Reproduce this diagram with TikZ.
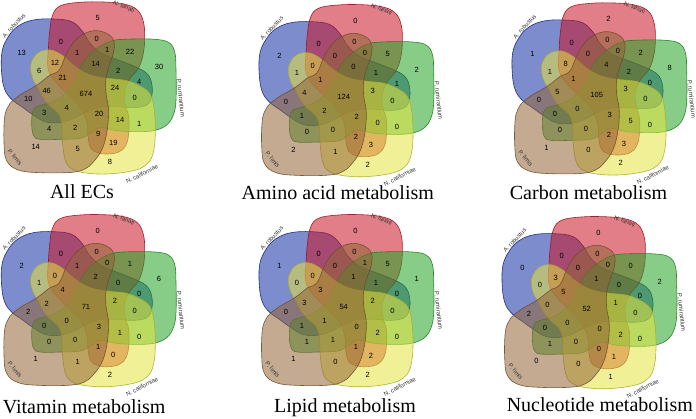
\documentclass[tikz,border=0pt]{standalone}
\usepackage{fontspec}
\setmainfont{Liberation Serif}
\setsansfont{Liberation Sans}
\usetikzlibrary{positioning}

\definecolor{arblue}{RGB}{19,46,164}
\definecolor{nlred}{RGB}{200,20,37}
\definecolor{prgreen}{RGB}{37,164,37}
\definecolor{ncyellow}{RGB}{228,228,64}
\definecolor{plbrown}{RGB}{146,100,55}

\tikzset{
	vennset/.style={fill=#1, fill opacity=0.55, draw=#1!75!black, draw opacity=0.9, line width=0.6pt},
	arshape/.style={insert path={plot[smooth cycle, tension=0.65] coordinates {(25,110) (55,78) (100,60) (160,57) (215,65) (248,95) (270,130) (305,160) (355,180) (405,200) (440,220) (455,250) (455,290) (440,315) (400,323) (350,320) (295,322) (250,340) (215,358) (175,368) (135,365) (100,345) (65,320) (35,298) (14,268) (5,220) (6,155)}}},
	nlshape/.style={insert path={plot[smooth cycle, tension=0.65] coordinates {(158,45) (182,17) (240,7) (310,6) (372,12) (412,30) (430,65) (434,110) (430,160) (415,205) (388,238) (374,275) (376,315) (386,350) (386,400) (378,435) (358,455) (325,462) (292,458) (272,444) (264,410) (262,375) (252,342) (232,312) (205,285) (175,255) (152,225) (143,195) (145,150) (149,95)}}},
	prshape/.style={insert path={plot[smooth cycle, tension=0.65] coordinates {(345,120) (400,117) (465,118) (505,127) (524,155) (528,210) (528,300) (520,345) (500,375) (465,391) (420,395) (360,393) (330,388) (300,382) (270,400) (240,415) (180,418) (120,418) (100,405) (95,365) (100,330) (115,318) (140,312) (170,300) (200,278) (218,250) (235,215) (255,180) (285,150) (320,128)}}},
	ncshape/.style={insert path={plot[smooth cycle, tension=0.65] coordinates {(95,185) (115,158) (150,150) (185,165) (220,195) (255,218) (290,230) (330,236) (380,242) (420,258) (450,282) (462,325) (466,400) (458,465) (435,497) (395,513) (320,522) (250,518) (213,505) (195,478) (187,420) (185,370) (175,340) (150,318) (130,295) (115,265) (100,240) (92,210)}}},
	plshape/.style={insert path={plot[smooth cycle, tension=0.65] coordinates {(30,310) (60,285) (100,262) (125,245) (150,225) (178,210) (200,160) (225,122) (255,100) (290,92) (325,103) (342,125) (340,160) (328,195) (318,235) (318,280) (325,320) (325,360) (318,410) (305,450) (285,480) (258,505) (215,517) (120,518) (55,510) (20,482) (12,430) (13,360) (20,328)}}},
	ecount/.style={font=\sffamily\fontsize{7.5}{7.5}\selectfont, inner sep=0},
	setname/.style={font=\sffamily\fontsize{6}{6}\selectfont, text=black!80, inner sep=0},
	paneltitle/.style={font=\fontsize{20}{20}\selectfont, inner sep=0, anchor=base}
}

% #1 name, #2/#3 centre, #4 the 31 counts
\newcommand{\vennpanel}[4]{
	\begin{scope}[shift={(#2,#3)}]
		\begin{scope}[x=0.33333pt, y=-0.33333pt, shift={(-258,-282)}]
			\filldraw[vennset=arblue, arshape];
			\filldraw[vennset=nlred, nlshape];
			\filldraw[vennset=prgreen, prshape];
			\filldraw[vennset=ncyellow, ncshape];
			\filldraw[vennset=plbrown, plshape];
		\end{scope}
		\foreach \x/\y [count=\i] in {-64.3/40.7, 11.7/75.7, 73/27.3, 24/-68.3, -50.3/-52.7, -25/52.3, 10.7/55, 21.3/44, 44/42.3, -8.7/40.7, 9.7/29.7, -31/30.7, -46.7/23.3, -23.3/16.3, 32.3/23.3, 53.3/12.3, 29/5.7, -39.3/3.3, 0/0, 48.7/-4.3, -57.7/-5, -19.3/-14.3, 13/-20.3, -41.7/-19.3, 34/-26, 53.3/-30.3, -36.7/-35, -10.7/-33.7, 12.3/-40.3, 27.3/-48.7, -8.3/-55} {
			\coordinate (#1r\i) at (\x,\y);
		};
		\foreach \n [count=\i] in {#4} {
			\node[ecount] (#1n\i) at (#1r\i) {\n};
		};
		\node[setname, rotate=47] (#1ar) at (-72,68.5) {A. robustus};
		\node[setname, rotate=-22] (#1nl) at (38,87.5) {N. lanati};
		\node[setname, rotate=-84] (#1pr) at (95,-4) {P. rumirantium};
		\node[setname, rotate=27] (#1nc) at (56,-80) {N. californiae};
		\node[setname, rotate=-50] (#1pl) at (-71,-63) {P. limis};
	\end{scope}
}

\begin{document}
\begin{tikzpicture}[x=1pt, y=1pt]
	\useasboundingbox (0,0) rectangle (696,419);
	\vennpanel{all}{86}{325}{13,5,30,8,14,0,0,1,22,1,14,12,6,21,2,4,24,46,674,0,10,4,20,3,14,1,4,2,9,19,5}
	\vennpanel{amino}{343.7}{322.3}{2,0,2,2,2,0,0,0,5,0,0,0,1,1,1,1,3,4,124,0,0,2,2,1,0,0,0,0,2,3,1}
	\vennpanel{carbon}{596.7}{324}{1,2,8,2,1,0,0,0,2,0,4,8,1,1,2,0,3,5,105,0,0,0,3,0,5,0,0,0,2,3,0}
	\vennpanel{vitamin}{86}{112.3}{2,0,6,2,1,0,0,0,1,1,2,0,1,4,0,0,2,2,71,0,2,0,3,0,1,0,0,0,1,0,1}
	\vennpanel{lipid}{343.7}{112.3}{1,0,1,2,1,0,0,1,5,0,1,0,0,3,1,0,2,3,54,0,0,1,0,1,2,0,1,1,1,2,0}
	\vennpanel{nucl}{586.7}{110.3}{0,0,2,1,0,0,0,0,0,0,1,3,0,5,0,0,1,0,52,0,2,0,0,0,2,0,1,0,0,1,0}
	\node[paneltitle] (tall) at (82,220) {All ECs};
	\node[paneltitle] (tamino) at (337.8,219.7) {Amino acid metabolism};
	\node[paneltitle] (tcarbon) at (588.5,219.7) {Carbon metabolism};
	\node[paneltitle] (tvitamin) at (84.2,5.7) {Vitamin metabolism};
	\node[paneltitle] (tlipid) at (345,6.3) {Lipid metabolism};
	\node[paneltitle] (tnucl) at (599.8,7.3) {Nucleotide metabolism};
\end{tikzpicture}
\end{document}
